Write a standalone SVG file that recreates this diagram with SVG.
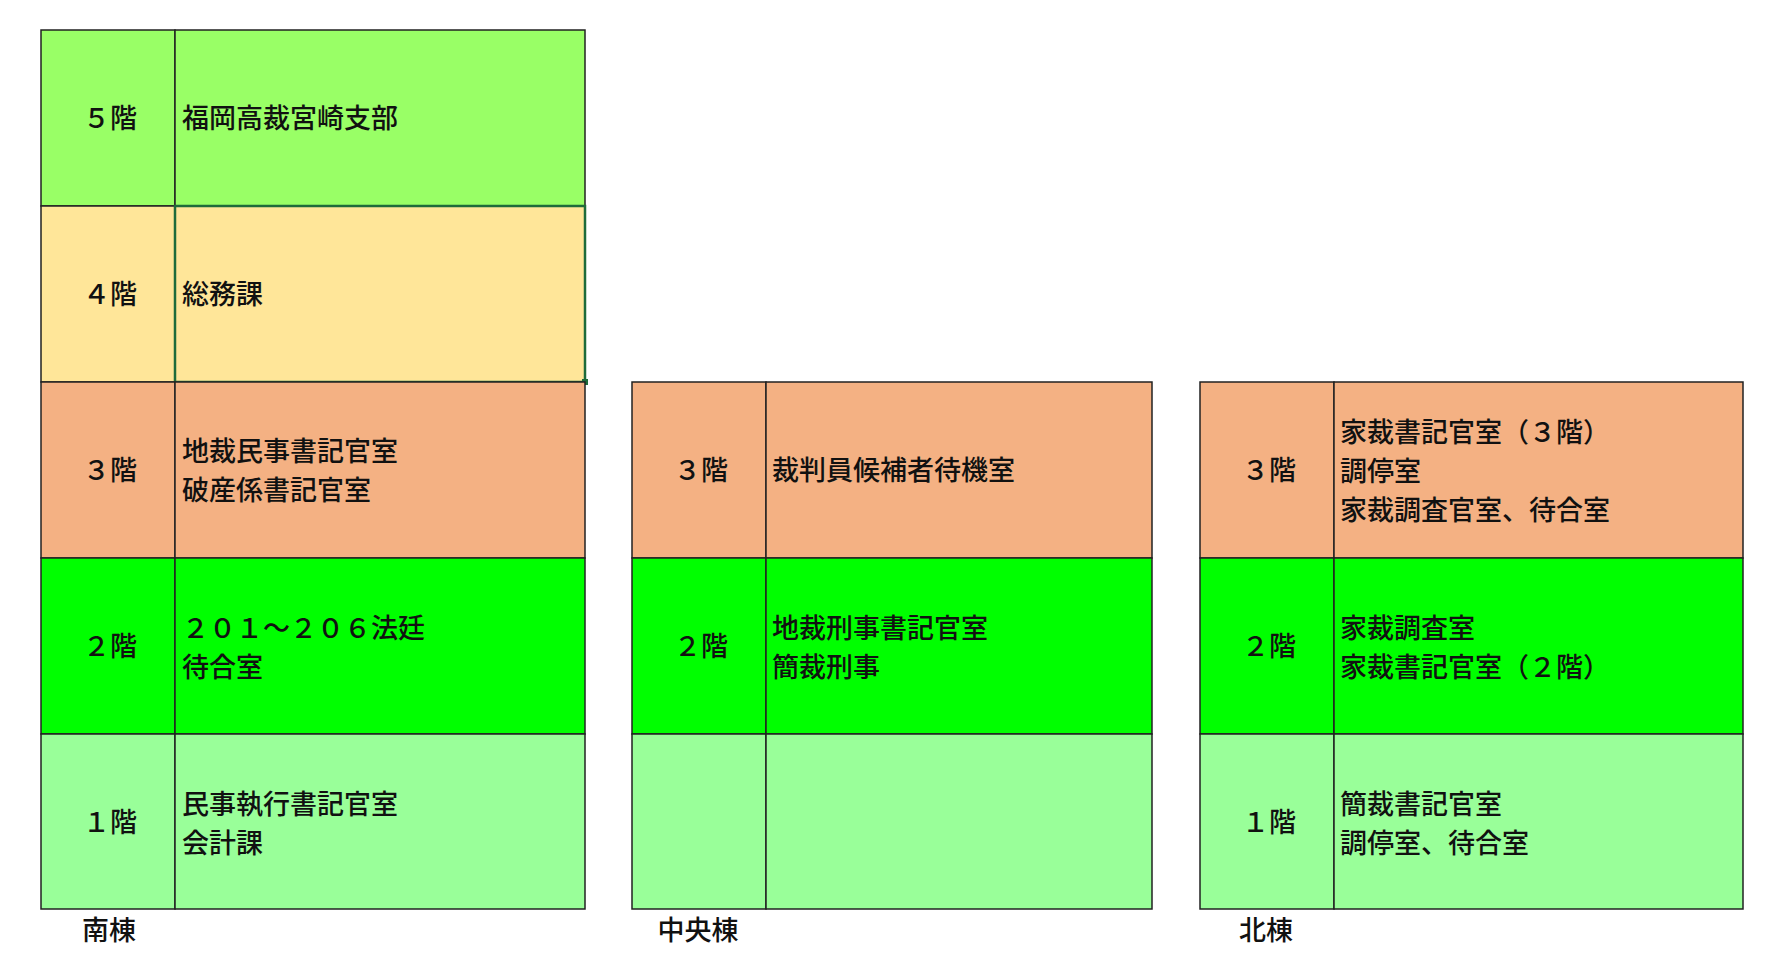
<svg xmlns="http://www.w3.org/2000/svg" width="1792" height="980" viewBox="0 0 1792 980">
<style>
rect{stroke:#222;stroke-width:1.5}
text{font-family:"Noto Sans CJK JP","Noto Sans",sans-serif;font-size:27px;font-weight:500;fill:#111}
.f{text-anchor:middle}
.c5{fill:#99FF66}.c4{fill:#FFE699}.c3{fill:#F4B183}.c2{fill:#00FF00}.c1{fill:#99FF99}
</style>
<rect width="1792" height="980" fill="#fff" style="stroke:none"/>
<g id="south">
<rect class="c5" x="41" y="30" width="134" height="176"/><rect class="c5" x="175" y="30" width="410" height="176"/>
<rect class="c4" x="41" y="206" width="134" height="176"/><rect class="c4" x="175" y="206" width="410" height="176" style="stroke:#1E6B3A;stroke-width:2.5"/>
<rect x="582" y="379" width="6" height="6" style="fill:#1E6B3A;stroke:none"/>
<rect class="c3" x="41" y="382" width="134" height="176"/><rect class="c3" x="175" y="382" width="410" height="176"/>
<rect class="c2" x="41" y="558" width="134" height="176"/><rect class="c2" x="175" y="558" width="410" height="176"/>
<rect class="c1" x="41" y="734" width="134" height="175"/><rect class="c1" x="175" y="734" width="410" height="175"/>
<text class="f" x="110" y="128">５階</text><text x="182" y="128">福岡高裁宮崎支部</text>
<text class="f" x="110" y="304">４階</text><text x="182" y="304">総務課</text>
<text class="f" x="110" y="480">３階</text><text x="182" y="461">地裁民事書記官室</text><text x="182" y="500">破産係書記官室</text>
<text class="f" x="110" y="656">２階</text><text x="182" y="638">２０１～２０６法廷</text><text x="182" y="677">待合室</text>
<text class="f" x="110" y="832">１階</text><text x="182" y="814">民事執行書記官室</text><text x="182" y="853">会計課</text>
<text class="f" x="109" y="940">南棟</text>
</g>
<g id="center">
<rect class="c3" x="632" y="382" width="134" height="176"/><rect class="c3" x="766" y="382" width="386" height="176"/>
<rect class="c2" x="632" y="558" width="134" height="176"/><rect class="c2" x="766" y="558" width="386" height="176"/>
<rect class="c1" x="632" y="734" width="134" height="175"/><rect class="c1" x="766" y="734" width="386" height="175"/>
<text class="f" x="701" y="480">３階</text><text x="772" y="480">裁判員候補者待機室</text>
<text class="f" x="701" y="656">２階</text><text x="772" y="638">地裁刑事書記官室</text><text x="772" y="677">簡裁刑事</text>
<text class="f" x="698" y="940">中央棟</text>
</g>
<g id="north">
<rect class="c3" x="1200" y="382" width="134" height="176"/><rect class="c3" x="1334" y="382" width="409" height="176"/>
<rect class="c2" x="1200" y="558" width="134" height="176"/><rect class="c2" x="1334" y="558" width="409" height="176"/>
<rect class="c1" x="1200" y="734" width="134" height="175"/><rect class="c1" x="1334" y="734" width="409" height="175"/>
<text class="f" x="1269" y="480">３階</text><text x="1340" y="442">家裁書記官室（３階）</text><text x="1340" y="481">調停室</text><text x="1340" y="520">家裁調査官室、待合室</text>
<text class="f" x="1269" y="656">２階</text><text x="1340" y="638">家裁調査室</text><text x="1340" y="677">家裁書記官室（２階）</text>
<text class="f" x="1269" y="832">１階</text><text x="1340" y="814">簡裁書記官室</text><text x="1340" y="853">調停室、待合室</text>
<text class="f" x="1266" y="940">北棟</text>
</g>
<g id="connectors"/>
</svg>
